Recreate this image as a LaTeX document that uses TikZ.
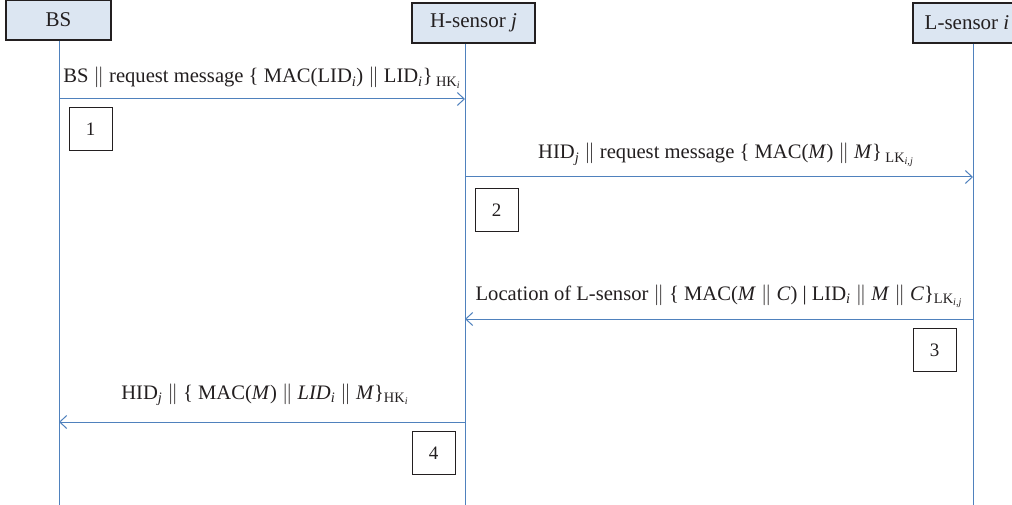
\documentclass[tikz,border=0pt]{standalone}
\usepackage{fontspec}
\setmainfont{Liberation Serif}
\usetikzlibrary{arrows.meta}
\definecolor{lifeblue}{HTML}{4F81BD}
\definecolor{headfill}{HTML}{DCE6F2}
\definecolor{inkgray}{HTML}{231F20}
\newcommand{\dbar}{$\|$}
\newcommand{\sub}[1]{\textsubscript{#1}}

\begin{document}
\begin{tikzpicture}[x=1pt,y=-1pt,
  head/.style={draw=inkgray,line width=1.2pt,fill=headfill,minimum height=40pt,
    inner sep=0pt,text=inkgray,font=\fontsize{21}{25}\selectfont},
  numbox/.style={draw=inkgray,line width=1pt,minimum width=43pt,minimum height=43pt,
    text=inkgray,font=\fontsize{19}{23}\selectfont},
  life/.style={lifeblue,line width=1pt},
  msg/.style={life,-{Straight Barb[length=7pt,width=13pt]}},
  lbl/.style={text=inkgray,font=\fontsize{20.6}{25}\selectfont,inner sep=0pt,anchor=base}]
  \clip (0,0) rectangle (1012,505);
  \fill[white] (0,0) rectangle (1012,505);

  % heads
  \node[head,minimum width=105pt] (bs) at (58.5,20) {BS};
  \node[head,minimum width=123pt] (hs) at (473.5,23) {H-sensor \textit{j}};
  \node[head,minimum width=108pt] (ls) at (967,23) {L-sensor \textit{i}};

  % lifelines
  \coordinate (bsend) at (59,505);
  \coordinate (hsend) at (465,505);
  \coordinate (lsend) at (973,505);
  \draw[life] (bs.south -| bsend) -- (bsend);
  \draw[life] (hs.south -| hsend) -- (hsend);
  \draw[life] (ls.south -| lsend) -- (lsend);

  % message ends
  \coordinate (bs1) at (59,99);  \coordinate (hs1) at (465,99);
  \coordinate (hs2) at (465,177); \coordinate (ls2) at (973,177);
  \coordinate (ls3) at (973,319); \coordinate (hs3) at (465,319);
  \coordinate (hs4) at (465,422); \coordinate (bs4) at (59,422);

  \draw[msg] (bs1) -- (hs1) node[lbl,midway,yshift=16pt]
    {BS \dbar\ request message \{ MAC(LID\sub{\textit{i}}) \dbar\ LID\sub{\textit{i}}\}\,\sub{HK\sub{\textit{i}}}};
  \draw[msg] (hs2) -- (ls2) node[lbl,midway,yshift=18pt,xshift=7pt]
    {HID\sub{\textit{j}} \dbar\ request message \{ MAC(\textit{M}) \dbar\ \textit{M}\}\,\sub{LK\sub{\textit{i,j}}}};
  \draw[msg] (ls3) -- (hs3) node[lbl,midway,yshift=19pt]
    {Location of L-sensor \dbar\ \{ MAC(\textit{M} \dbar\ \textit{C}) | LID\sub{\textit{i}} \dbar\ \textit{M} \dbar\ \textit{C}\}\sub{LK\sub{\textit{i,j}}}};
  \draw[msg] (hs4) -- (bs4) node[lbl,midway,yshift=23pt,xshift=3pt]
    {HID\sub{\textit{j}} \dbar\ \{ MAC(\textit{M}) \dbar\ \textit{LID\sub{i}} \dbar\ \textit{M}\}\sub{HK\sub{\textit{i}}}};

  % step numbers
  \node[numbox] (n1) at (90.5,129) {1};
  \node[numbox] (n2) at (496.5,210) {2};
  \node[numbox] (n3) at (934.5,350) {3};
  \node[numbox] (n4) at (433.5,453) {4};
\end{tikzpicture}
\end{document}
